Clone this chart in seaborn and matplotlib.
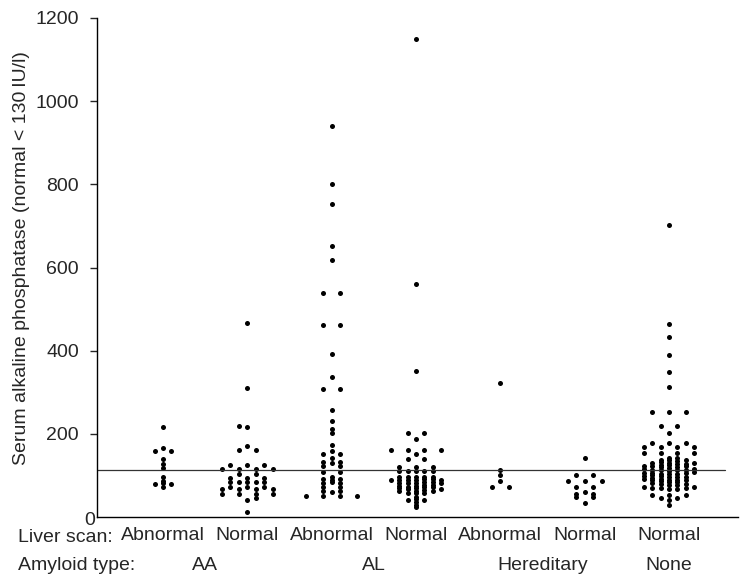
import numpy as np
import pandas as pd
import seaborn as sns
import matplotlib.pyplot as plt
import matplotlib.transforms as mtransforms

# serum alkaline phosphatase (IU/l) per liver scan / amyloid group
liver_scan = ['Abnormal', 'Normal', 'Abnormal', 'Normal', 'Abnormal', 'Normal', 'Normal']
amyloid_type = ['AA', 'AA', 'AL', 'AL', 'Hereditary', 'Hereditary', 'None']

aa_abnormal = [217, 165, 159, 159, 140, 127, 117, 97, 87, 79, 79, 81, 71]
aa_normal = [467, 311, 219, 216, 171, 161, 161, 126, 126, 126, 115, 115, 115, 115,
             103, 103, 93, 93, 93, 83, 83, 83, 85, 85, 73, 73, 73, 67, 67, 67, 67,
             55, 55, 55, 55, 46, 42, 12]
al_abnormal = [940, 802, 752, 651, 618, 538, 538, 462, 462, 393, 336, 308, 308, 257,
               230, 212, 203, 173, 159, 151, 151, 141, 131, 133, 133, 123, 123, 109,
               109, 95, 89, 92, 92, 81, 81, 83, 73, 73, 61, 63, 63, 51, 51, 51, 51]
al_normal = [1150, 560, 352, 201, 201, 187, 161, 161, 161, 161, 151, 140, 140,
             97, 89, 81, 71, 63,
             121, 111, 91, 85, 77, 69, 63, 41,
             111, 97, 89, 81, 75, 67, 58,
             121, 111, 97, 89, 81, 73, 65, 57, 49, 43, 37, 29, 23,
             111, 97, 89, 81, 75, 67, 58,
             121, 111, 91, 85, 77, 69, 63, 41,
             97, 89, 71]
her_abnormal = [323, 113, 101, 87, 73, 73]
her_normal = [143, 100, 100, 87, 87, 87, 71, 71, 61, 55, 55, 49, 49, 34]
none_normal = [703, 465, 432, 390, 348, 312, 252, 252, 252, 219, 219, 203,
               179, 179, 179, 169, 169, 169, 169, 155, 155, 155, 155,
               142, 135, 126, 118, 111, 104, 95, 88, 77, 68,
               143, 136, 128, 120, 113, 104, 97, 90, 81, 70, 53, 45,
               132, 124, 116, 107, 99, 91, 83, 72,
               130, 122, 114, 106, 98, 89, 80, 69, 53, 41, 29,
               138, 131, 122, 114, 105, 96, 88, 79, 67,
               131, 123, 115, 108, 100, 92, 84, 71, 53, 45,
               136, 128, 121, 112, 103, 94, 86, 78, 69]

groups = [aa_abnormal, aa_normal, al_abnormal, al_normal, her_abnormal, her_normal, none_normal]
normal_line = 113


def dot_columns(vals, gap=6):
    # dot plot layout in half-step columns: equal values are spread in a
    # centred row, otherwise a dot takes the most central free column
    vals = np.asarray(vals, float)
    placed = {}
    cols = np.zeros(len(vals))
    flip = 1

    def free(c, v):
        return all(abs(v - u) >= gap for u in placed.get(c, []))

    order = np.argsort(vals, kind='stable')
    n = 0
    while n < len(order):
        v = vals[order[n]]
        run = [i for i in order[n:] if vals[i] == v]
        k = len(run)
        row = [2 * j - (k - 1) for j in range(k)]
        if k <= 4 and all(free(c, v) for c in row):
            for i, c in zip(run, row):
                placed.setdefault(c, []).append(v)
                cols[i] = c
        else:
            for i in run:
                d = 0
                while True:
                    cands = [0] if d == 0 else [flip * d, -flip * d]
                    ok = [c for c in cands if free(c, v)]
                    if ok:
                        c = ok[0]
                        break
                    d += 1
                if c != 0:
                    flip = -flip
                placed.setdefault(c, []).append(v)
                cols[i] = c
        n += k
    return cols


step = 0.1  # half-step column spacing in category units
frames = []
for i, vals in enumerate(groups):
    frames.append(pd.DataFrame({'group': i, 'alp': vals,
                                'x': i + step * dot_columns(vals)}))
df = pd.concat(frames, ignore_index=True)

sns.set_style('ticks')
plt.rcParams['font.family'] = ['Liberation Sans', 'DejaVu Sans']

fig = plt.figure(figsize=(7.4, 5.78), dpi=100)
ax = fig.add_axes([97 / 740, 1 - 517 / 578, (738 - 97) / 740, (517 - 18) / 578])

sns.scatterplot(data=df, x='x', y='alp', color='black', s=13, linewidth=0,
                legend=False, ax=ax)

ax.axhline(normal_line, xmin=0, xmax=0.98, color='#333333', lw=0.9, zorder=1)

ax.set_xlim(-0.783, 6.818)
ax.set_ylim(0, 1200)
ax.set_yticks(range(0, 1201, 200))
ax.set_xticks(range(len(groups)))
ax.set_xticklabels(liver_scan)
ax.tick_params(axis='x', length=0, pad=7, labelsize=14)
ax.tick_params(axis='y', length=5, width=1, labelsize=14, direction='out', pad=8)
ax.set_xlabel('')
ax.set_ylabel('Serum alkaline phosphatase (normal < 130\u2009IU/l)', fontsize=14)
ax.yaxis.set_label_coords(-0.105, 0.519)
for s in ['top', 'right']:
    ax.spines[s].set_visible(False)
for s in ['left', 'bottom']:
    ax.spines[s].set_linewidth(1)
    ax.spines[s].set_color('black')

# the zero label sits in the corner, next to the axis
zero = ax.get_yticklabels()[0]
zero.set_transform(zero.get_transform() +
                   mtransforms.ScaledTranslation(12 / 72, -1 / 72, fig.dpi_scale_trans))
ax.yaxis.get_major_ticks()[0].tick1line.set_visible(False)

fig.text(18 / 740, 1 - 537 / 578, 'Liver scan:', fontsize=14, va='center')
fig.text(18 / 740, 1 - 566 / 578, 'Amyloid type:', fontsize=14, va='center')

# amyloid type label centred under its groups
types = list(dict.fromkeys(amyloid_type))
for t in types:
    idx = [i for i, a in enumerate(amyloid_type) if a == t]
    ax.text(np.mean(idx), -0.098, t, transform=ax.get_xaxis_transform(),
            ha='center', va='center', fontsize=14)

fig.savefig('out.png', dpi=100)
